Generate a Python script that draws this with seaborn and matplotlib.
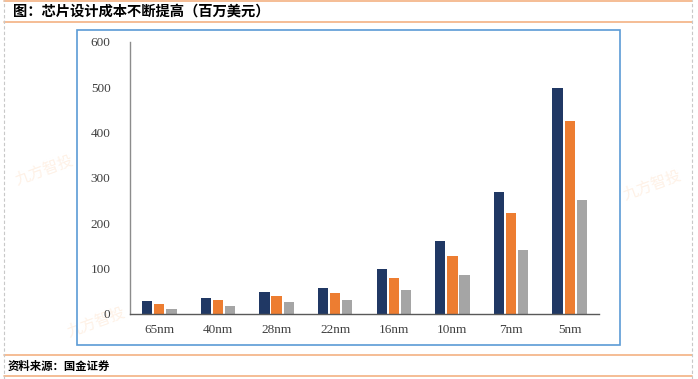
import matplotlib
matplotlib.use("Agg")
import matplotlib.pyplot as plt
import seaborn as sns
import pandas as pd
from matplotlib.lines import Line2D
from matplotlib.patches import Rectangle

# ---- data ----
nodes = ["65nm", "40nm", "28nm", "22nm", "16nm", "10nm", "7nm", "5nm"]
series_names = ["系列1", "系列2", "系列3"]
series1 = [28, 36, 49, 57, 99, 161, 270, 498]
series2 = [22, 30, 40, 46, 80, 128, 222, 426]
series3 = [12, 18, 26, 30, 52, 86, 142, 252]
yticks = [0, 100, 200, 300, 400, 500, 600]
title = "图：芯片设计成本不断提高（百万美元）"
source = "资料来源：国金证券"

colors = ["#203864", "#ed7d31", "#a5a5a5"]

df = pd.DataFrame({
    "node": nodes * 3,
    "series": [series_names[0]] * 8 + [series_names[1]] * 8 + [series_names[2]] * 8,
    "value": series1 + series2 + series3,
})

sns.set_theme(style="white")
plt.rcParams["font.family"] = ["Noto Sans CJK SC", "DejaVu Sans"]

W, H = 698, 379
fig = plt.figure(figsize=(W / 100, H / 100), dpi=100)

def fx(px):
    return px / W

def fy(py):
    return 1 - py / H

# faint watermarks (behind everything)
for (x, y) in [(44, 170), (652, 185), (96, 322)]:
    fig.text(fx(x), fy(y), "九方智投", fontsize=11, color="#fef1e6",
             rotation=20, ha="center", va="center", zorder=-5)

ax = fig.add_axes([fx(130), fy(314), fx(599) - fx(130), fy(42) - fy(314)])
ax.patch.set_alpha(0)
sns.barplot(data=df, x="node", y="value", hue="series", order=nodes,
            hue_order=series_names, palette=colors, width=0.62, gap=0.15,
            saturation=1, legend=False, ax=ax, linewidth=0, errorbar=None)

ax.set_ylim(0, 600)
ax.set_xlim(-0.5, len(nodes) - 0.5)
ax.set_yticks(yticks)
ax.set_yticklabels([str(t) for t in yticks], family="Liberation Serif",
                   fontsize=9.5, color="#404040")
ax.set_xticks(range(len(nodes)))
ax.set_xticklabels(nodes, family="Liberation Serif", fontsize=9.5, color="#404040")
ax.set_xlabel("")
ax.set_ylabel("")
for s in ["top", "right"]:
    ax.spines[s].set_visible(False)
ax.spines["left"].set_color("#8c8c8c")
ax.spines["left"].set_linewidth(1.0)
ax.spines["bottom"].set_color("#595959")
ax.spines["bottom"].set_linewidth(1.0)
ax.tick_params(axis="y", direction="in", length=3, width=0.8, color="#8c8c8c", pad=14)
ax.tick_params(axis="x", which="major", length=0, pad=7)
ax.set_xticks([i + 0.5 for i in range(len(nodes) - 1)], minor=True)
ax.tick_params(axis="x", which="minor", direction="out", length=3, width=0.8,
               color="#595959")
ax.grid(False)

# chart border (blue)
fig.add_artist(Rectangle((fx(77), fy(345)), fx(620) - fx(77), fy(30) - fy(345),
                         transform=fig.transFigure, fill=False,
                         edgecolor="#5b9bd5", linewidth=1.2, zorder=0))

# outer frame lines
orange = "#f4b183"
for y in [1, 22, 355, 376]:
    fig.add_artist(Line2D([fx(4), fx(692)], [fy(y), fy(y)], color=orange,
                          linewidth=1.2, transform=fig.transFigure))
for x in [4, 692]:
    fig.add_artist(Line2D([fx(x), fx(x)], [0, 1], color="#c8c8c8",
                          linewidth=0.8, linestyle=(0, (3, 2)),
                          transform=fig.transFigure))

fig.text(fx(13), fy(12), title, fontsize=10.3, fontweight="bold",
         ha="left", va="center", color="black")
fig.text(fx(8), fy(366), source, fontsize=8.2, fontweight="bold",
         ha="left", va="center", color="black")

fig.savefig("out.png", dpi=100)
